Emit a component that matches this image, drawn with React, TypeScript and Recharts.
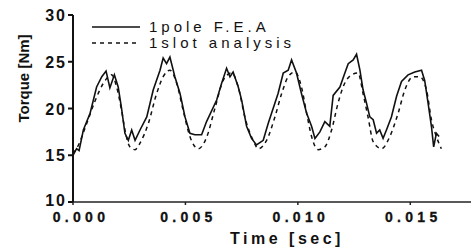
import { LineChart, Line, XAxis, YAxis } from "recharts";

// time [sec] and torque [Nm]
const feaTime = [
  0, 0.00016, 0.00027, 0.00046, 0.00076, 0.00105, 0.00128, 0.00147, 0.00164, 0.00184,
  0.00201, 0.00216, 0.00231, 0.00246, 0.00261, 0.00276, 0.00298, 0.00328, 0.00357, 0.00387,
  0.00401, 0.00416, 0.00431, 0.00453, 0.00476, 0.00498, 0.0052, 0.00542, 0.00572, 0.00594,
  0.00639, 0.00661, 0.00683, 0.00698, 0.00712, 0.00735, 0.0075, 0.00772, 0.00794, 0.00816,
  0.00846, 0.00868, 0.00883, 0.00912, 0.00935, 0.00957, 0.00972, 0.00994, 0.01016, 0.01039,
  0.01061, 0.01076, 0.01098, 0.0112, 0.01142, 0.01157, 0.01187, 0.01209, 0.01224, 0.01246,
  0.01261, 0.01276, 0.0129, 0.01305, 0.0132, 0.01335, 0.0135, 0.01364, 0.01379, 0.01394,
  0.01416, 0.01439, 0.01461, 0.0149, 0.0152, 0.0155, 0.01564, 0.01579, 0.01594, 0.01604,
  0.01616, 0.01628,
];
const feaTorque = [
  15.0, 15.7, 15.5, 17.7, 19.5, 22.3, 23.4, 24.0, 22.2, 23.6,
  22.3, 20.0, 17.35, 16.6, 17.7, 16.6, 17.7, 19.1, 22.0, 24.1,
  25.4, 24.8, 25.5, 23.4, 21.6, 19.1, 17.35, 17.2, 17.2, 18.6,
  20.9, 22.7, 24.3, 23.4, 23.9, 22.3, 20.9, 18.1, 16.8, 16.1,
  16.6, 18.4, 19.5, 21.6, 23.8, 24.1, 25.2, 23.8, 21.6, 19.5,
  18.1, 16.8, 17.5, 18.6, 18.1, 21.4, 22.3, 23.8, 24.8, 25.2,
  25.8, 24.1, 22.0, 20.6, 19.1, 18.8, 17.35, 17.7, 16.8, 17.7,
  19.1, 21.3, 22.9, 23.6, 23.9, 24.1, 23.0, 20.6, 18.1, 15.9,
  17.35, 17.0,
];

const slotTime = [
  0, 0.00018, 0.00061, 0.00098, 0.00135, 0.00172, 0.00194, 0.00216, 0.00231, 0.00253,
  0.00276, 0.00298, 0.00335, 0.00372, 0.00401, 0.00431, 0.00461, 0.0049, 0.0052, 0.00557,
  0.00594, 0.00631, 0.00668, 0.00705, 0.00735, 0.00764, 0.00801, 0.00824, 0.00861, 0.00898,
  0.00928, 0.00957, 0.00987, 0.01016, 0.01039, 0.01061, 0.0109, 0.0112, 0.0115, 0.01179,
  0.01201, 0.01239, 0.01268, 0.0129, 0.01312, 0.01335, 0.01372, 0.01409, 0.01446, 0.01476,
  0.01512, 0.01542, 0.01572, 0.01594, 0.01616, 0.01638,
];
const slotTorque = [
  15.2, 15.8, 18.4, 20.8, 22.7, 23.6, 22.3, 19.8, 17.7, 15.9,
  15.6, 16.3, 18.4, 21.6, 23.4, 24.1, 22.7, 19.8, 17.0, 15.7,
  16.9, 20.0, 23.0, 23.8, 22.3, 19.1, 16.6, 15.7, 16.6, 19.1,
  21.6, 23.4, 23.9, 22.3, 19.5, 17.0, 15.6, 15.9, 17.7, 20.6,
  22.3, 23.6, 23.8, 21.6, 19.1, 16.45, 15.7, 17.0, 19.5, 22.0,
  23.4, 23.4, 22.0, 18.8, 17.0, 15.7,
];

const xTicks = [0, 0.005, 0.01, 0.015];
const yTicks = [10, 15, 20, 25, 30];
const seriesNames = ["1pole F.E.A", "1slot analysis"];

const feaData = feaTime.map((t, i) => ({ t, v: feaTorque[i] }));
const slotData = slotTime.map((t, i) => ({ t, v: slotTorque[i] }));

const font = "Arial, 'Liberation Sans', Helvetica, sans-serif";

const XTick = (props: any) => {
  const { x, y, payload } = props;
  return (
    <text x={x + (payload.value === 0 ? 8 : 3)} y={y + 15} textAnchor="middle" fontFamily={font}
      fontSize={14} fontWeight={600} letterSpacing={4.3} fill="#111" stroke="#111" strokeWidth={0.3}>
      {payload.value.toFixed(3)}
    </text>
  );
};

const YTick = (props: any) => {
  const { x, y, payload } = props;
  return (
    <text x={x + 1} y={y + (payload.value === 10 ? 4 : 6)} textAnchor="end" fontFamily={font}
      fontSize={16} fontWeight="bold" letterSpacing={2} fill="#111">
      {payload.value}
    </text>
  );
};

// legend is an overlay so it does not push the plot down
const LegendBox = () => (
  <div style={{ position: "absolute", left: 92, top: 19, fontFamily: font, fontSize: 15,
    color: "#111", letterSpacing: 4, lineHeight: "16px" }}>
    {seriesNames.map((name, i) => (
      <div key={name} style={{ display: "flex", alignItems: "center", height: 16 }}>
        <svg width={57} height={8}>
          <line x1={0} y1={4} x2={48} y2={4} stroke="#111" strokeWidth={1.5}
            strokeDasharray={i === 1 ? "4 4" : undefined} />
        </svg>
        <span>{name}</span>
      </div>
    ))}
  </div>
);

export default function App() {
  return (
    <div style={{ position: "absolute", left: 0, top: 0, width: 473, height: 251, background: "#fff" }}>
      <LineChart width={473} height={251} margin={{ top: 15, right: 2, left: 0, bottom: 0 }}>
        <XAxis
          dataKey="t"
          type="number"
          domain={[0, 0.0177]}
          ticks={xTicks}
          tick={<XTick />}
          tickSize={3}
          stroke="#222"
          strokeWidth={1.5}
          height={49}
          allowDuplicatedCategory={false}
          label={{ value: "Time [sec]", position: "insideBottom", dx: 15, dy: -2, fontFamily: font,
            fontSize: 16, fontWeight: "bold", letterSpacing: 3.5, fill: "#111" }}
        />
        <YAxis
          type="number"
          domain={[10, 30]}
          ticks={yTicks}
          tick={<YTick />}
          tickSize={5}
          stroke="#111"
          strokeWidth={2}
          width={73}
          label={{ value: "Torque [Nm]", angle: -90, position: "insideLeft", dx: 19, dy: 14,
            fontFamily: font, fontSize: 15, fontWeight: "bold", fill: "#111" }}
        />
        <Line data={feaData} dataKey="v" name={seriesNames[0]} type="linear" stroke="#111"
          strokeWidth={1.6} dot={false} isAnimationActive={false} />
        <Line data={slotData} dataKey="v" name={seriesNames[1]} type="monotone" stroke="#111"
          strokeWidth={1.5} strokeDasharray="4 4" dot={false} isAnimationActive={false} />
      </LineChart>
      <LegendBox />
    </div>
  );
}
